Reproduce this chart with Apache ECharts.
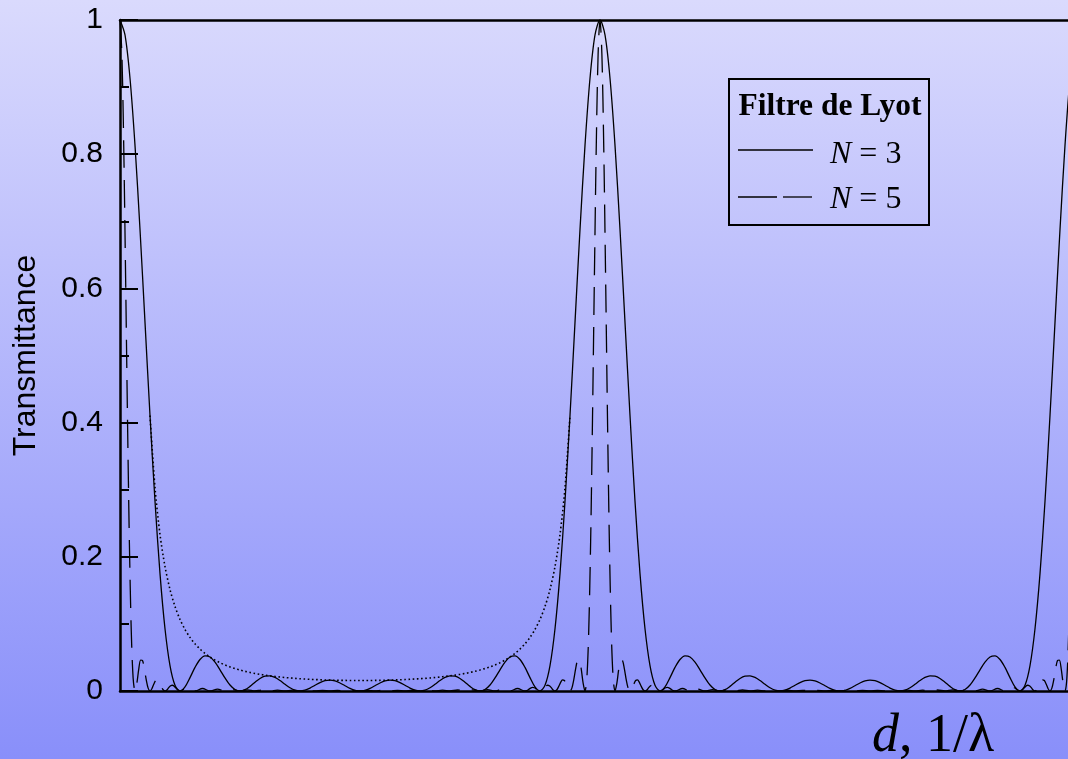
<!DOCTYPE html>
<html><head><meta charset="utf-8">
<script src="https://cdn.jsdelivr.net/npm/echarts@6/dist/echarts.min.js"></script>
<style>html,body{margin:0;padding:0;background:#fff;}#c{width:1068px;height:759px;}</style>
</head><body><div id="c"></div>
<script>
// x unit: 1/768 of one period of the filter response (peaks at 0, 768, 1536)
const yTickLabels = ['0', '0.2', '0.4', '0.6', '0.8', '1'];
const legendTitle = 'Filtre de Lyot';
const seriesNames = ['N = 3', 'N = 5', 'enveloppe'];

const lyotN3 = [
[0,1],[8,0.97772],[16,0.9132],[24,0.81318],[32,0.68784],[40,0.5494],[48,0.41053],[56,0.28273],[64,0.17494],[72,0.09271],[80,0.03781],[88,0.00844],[96,0],[104,0.00615],[112,0.01997],[120,0.03516],[128,0.04688],[136,0.05228],[144,0.05062],[152,0.04297],[160,0.03162],[168,0.01941],[176,0.00899],[184,0.00224],[192,0],[200,0.00196],[208,0.00691],[216,0.01307],[224,0.01862],[232,0.02206],[240,0.0226],[248,0.02022],[256,0.01563],[264,0.01004],[272,0.00486],[280,0.00126],[288,0],[296,0.0012],[304,0.00436],[312,0.00853],[320,0.01256],[328,0.01537],[336,0.01624],[344,0.01498],[352,0.01192],[360,0.00789],[368,0.00392],[376,0.00105],[384,0],
[392,0.00105],[400,0.00392],[408,0.00789],[416,0.01192],[424,0.01498],[432,0.01624],[440,0.01537],[448,0.01256],[456,0.00853],[464,0.00436],[472,0.0012],[480,0],[488,0.00126],[496,0.00486],[504,0.01004],[512,0.01563],[520,0.02022],[528,0.0226],[536,0.02206],[544,0.01862],[552,0.01307],[560,0.00691],[568,0.00196],[576,0],[584,0.00224],[592,0.00899],[600,0.01941],[608,0.03162],[616,0.04297],[624,0.05062],[632,0.05228],[640,0.04688],[648,0.03516],[656,0.01997],[664,0.00615],[672,0],[680,0.00844],[688,0.03781],[696,0.09271],[704,0.17494],[712,0.28273],[720,0.41053],[728,0.5494],[736,0.68784],[744,0.81318],[752,0.9132],[760,0.97772],
[768,1],[776,0.97772],[784,0.9132],[792,0.81318],[800,0.68784],[808,0.5494],[816,0.41053],[824,0.28273],[832,0.17494],[840,0.09271],[848,0.03781],[856,0.00844],[864,0],[872,0.00615],[880,0.01997],[888,0.03516],[896,0.04688],[904,0.05228],[912,0.05062],[920,0.04297],[928,0.03162],[936,0.01941],[944,0.00899],[952,0.00224],[960,0],[968,0.00196],[976,0.00691],[984,0.01307],[992,0.01862],[1000,0.02206],[1008,0.0226],[1016,0.02022],[1024,0.01563],[1032,0.01004],[1040,0.00486],[1048,0.00126],[1056,0],[1064,0.0012],[1072,0.00436],[1080,0.00853],[1088,0.01256],[1096,0.01537],[1104,0.01624],[1112,0.01498],[1120,0.01192],[1128,0.00789],[1136,0.00392],[1144,0.00105],[1152,0],
[1160,0.00105],[1168,0.00392],[1176,0.00789],[1184,0.01192],[1192,0.01498],[1200,0.01624],[1208,0.01537],[1216,0.01256],[1224,0.00853],[1232,0.00436],[1240,0.0012],[1248,0],[1256,0.00126],[1264,0.00486],[1272,0.01004],[1280,0.01563],[1288,0.02022],[1296,0.0226],[1304,0.02206],[1312,0.01862],[1320,0.01307],[1328,0.00691],[1336,0.00196],[1344,0],[1352,0.00224],[1360,0.00899],[1368,0.01941],[1376,0.03162],[1384,0.04297],[1392,0.05062],[1400,0.05228],[1408,0.04688],[1416,0.03516],[1424,0.01997],[1432,0.00615],[1440,0],[1448,0.00844],[1456,0.03781],[1464,0.09271],[1472,0.17494],[1480,0.28273],[1488,0.41053],[1496,0.5494],[1504,0.68784],[1512,0.81318],[1520,0.9132],[1528,0.97772],[1536,1]
];

const lyotN5 = [
[0,1],[3,0.94969],[6,0.81073],[9,0.61527],[12,0.40561],[15,0.22168],[18,0.09023],[21,0.01943],[24,0],[27,0.01177],[30,0.03259],[33,0.04602],[36,0.04536],[39,0.03303],[42,0.01671],[45,0.00427],[48,0],[51,0.00333],[54,0.01017],[57,0.01561],[60,0.01654],[63,0.01283],[66,0.00686],[69,0.00184],[72,0],[75,0.00157],[78,0.00496],[81,0.00788],[84,0.0086],[87,0.00687],[90,0.00377],[93,0.00104],[96,0],[99,0.00092],[102,0.00297],[105,0.00481],[108,0.00534],[111,0.00433],[114,0.00242],[117,0.00067],[120,0],
[132,0.0037],[144,0],[156,0.00275],[168,0],[180,0.00217],[192,0],[204,0.00178],[216,0],[228,0.00151],[240,0],[252,0.00133],[264,0],[276,0.0012],[288,0],[300,0.0011],[312,0],[324,0.00104],[336,0],[348,0.001],[360,0],[372,0.00098],[384,0],[396,0.00098],[408,0],[420,0.001],[432,0],[444,0.00104],[456,0],[468,0.0011],[480,0],[492,0.0012],[504,0],[516,0.00133],[528,0],[540,0.00151],[552,0],[564,0.00178],[576,0],[588,0.00217],[600,0],[612,0.00275],[624,0],[636,0.0037],
[648,0],[651,0.00067],[654,0.00242],[657,0.00433],[660,0.00534],[663,0.00481],[666,0.00297],[669,0.00092],[672,0],[675,0.00104],[678,0.00377],[681,0.00687],[684,0.0086],[687,0.00788],[690,0.00496],[693,0.00157],[696,0],[699,0.00184],[702,0.00686],[705,0.01283],[708,0.01654],[711,0.01561],[714,0.01017],[717,0.00333],[720,0],[723,0.00427],[726,0.01671],[729,0.03303],[732,0.04536],[735,0.04602],[738,0.03259],[741,0.01177],[744,0],[747,0.01943],[750,0.09023],[753,0.22168],[756,0.40561],[759,0.61527],[762,0.81073],[765,0.94969],
[768,1],[771,0.94969],[774,0.81073],[777,0.61527],[780,0.40561],[783,0.22168],[786,0.09023],[789,0.01943],[792,0],[795,0.01177],[798,0.03259],[801,0.04602],[804,0.04536],[807,0.03303],[810,0.01671],[813,0.00427],[816,0],[819,0.00333],[822,0.01017],[825,0.01561],[828,0.01654],[831,0.01283],[834,0.00686],[837,0.00184],[840,0],[843,0.00157],[846,0.00496],[849,0.00788],[852,0.0086],[855,0.00687],[858,0.00377],[861,0.00104],[864,0],[867,0.00092],[870,0.00297],[873,0.00481],[876,0.00534],[879,0.00433],[882,0.00242],[885,0.00067],[888,0],
[900,0.0037],[912,0],[924,0.00275],[936,0],[948,0.00217],[960,0],[972,0.00178],[984,0],[996,0.00151],[1008,0],[1020,0.00133],[1032,0],[1044,0.0012],[1056,0],[1068,0.0011],[1080,0],[1092,0.00104],[1104,0],[1116,0.001],[1128,0],[1140,0.00098],[1152,0],[1164,0.00098],[1176,0],[1188,0.001],[1200,0],[1212,0.00104],[1224,0],[1236,0.0011],[1248,0],[1260,0.0012],[1272,0],[1284,0.00133],[1296,0],[1308,0.00151],[1320,0],[1332,0.00178],[1344,0],[1356,0.00217],[1368,0],[1380,0.00275],[1392,0],[1404,0.0037],
[1416,0],[1419,0.00067],[1422,0.00242],[1425,0.00433],[1428,0.00534],[1431,0.00481],[1434,0.00297],[1437,0.00092],[1440,0],[1443,0.00104],[1446,0.00377],[1449,0.00687],[1452,0.0086],[1455,0.00788],[1458,0.00496],[1461,0.00157],[1464,0],[1467,0.00184],[1470,0.00686],[1473,0.01283],[1476,0.01654],[1479,0.01561],[1482,0.01017],[1485,0.00333],[1488,0],[1491,0.00427],[1494,0.01671],[1497,0.03303],[1500,0.04536],[1503,0.04602],[1506,0.03259],[1509,0.01177],[1512,0],[1515,0.01943],[1518,0.09023],[1521,0.22168],[1524,0.40561],[1527,0.61527],[1530,0.81073],[1533,0.94969],[1536,1]
];

const envelopeN3 = [
[48,0.41053],[56,0.30302],[64,0.23325],[72,0.18543],[80,0.15122],[88,0.12593],[96,0.10669],[104,0.09174],[112,0.07987],[120,0.07031],[128,0.0625],[136,0.05603],[144,0.05062],[152,0.04605],[160,0.04216],[168,0.03882],[176,0.03594],[184,0.03344],[192,0.03125],[200,0.02933],[208,0.02764],[216,0.02615],[224,0.02483],[232,0.02365],[240,0.0226],[248,0.02167],[256,0.02083],[264,0.02009],[272,0.01943],[280,0.01883],[288,0.01831],[296,0.01784],[304,0.01743],[312,0.01706],[320,0.01675],[328,0.01648],[336,0.01624],[344,0.01605],[352,0.0159],[360,0.01578],[368,0.01569],[376,0.01564],[384,0.01563],
[392,0.01564],[400,0.01569],[408,0.01578],[416,0.0159],[424,0.01605],[432,0.01624],[440,0.01648],[448,0.01675],[456,0.01706],[464,0.01743],[472,0.01784],[480,0.01831],[488,0.01883],[496,0.01943],[504,0.02009],[512,0.02083],[520,0.02167],[528,0.0226],[536,0.02365],[544,0.02483],[552,0.02615],[560,0.02764],[568,0.02933],[576,0.03125],[584,0.03344],[592,0.03594],[600,0.03882],[608,0.04216],[616,0.04605],[624,0.05062],[632,0.05603],[640,0.0625],[648,0.07031],[656,0.07987],[664,0.09174],[672,0.10669],[680,0.12593],[688,0.15122],[696,0.18543],[704,0.23325],[712,0.30302],[720,0.41053]
];

const chart = echarts.init(document.getElementById('c'), null, {renderer: 'canvas'});
const axisBlack = {color: '#000', width: 2.5};
const sans = '"Liberation Sans", Arial, sans-serif';
const serif = '"Liberation Serif", "Times New Roman", serif';

chart.setOption({
  animation: false,
  backgroundColor: {type: 'linear', x: 0, y: 0, x2: 0, y2: 1,
    colorStops: [{offset: 0, color: '#dadafd'}, {offset: 1, color: '#898ffa'}]},
  grid: {left: 120, top: 20, right: 0, bottom: 68},
  xAxis: [
    {type: 'value', min: 0, max: 1516.8, position: 'bottom',
     axisLine: {show: true, onZero: false, lineStyle: axisBlack},
     axisTick: {show: false}, axisLabel: {show: false}, splitLine: {show: false}},
    {type: 'value', min: 0, max: 1516.8, position: 'top',
     axisLine: {show: true, onZero: false, lineStyle: axisBlack},
     axisTick: {show: false}, axisLabel: {show: false}, splitLine: {show: false}}
  ],
  yAxis: {
    type: 'value', min: 0, max: 1, interval: 0.2,
    axisLine: {show: true, lineStyle: axisBlack},
    axisTick: {show: true, inside: true, length: 18, lineStyle: {color: '#000', width: 2}},
    minorTick: {show: true, splitNumber: 2, length: 9, lineStyle: {color: '#000', width: 2}},
    splitLine: {show: false},
    axisLabel: {color: '#000', fontFamily: sans, fontSize: 30, margin: 17, padding: [4, 0, 0, 0],
      formatter: (v) => yTickLabels[Math.round(v / 0.2)]},
    name: 'Transmittance', nameLocation: 'middle', nameGap: 78,
    nameTextStyle: {color: '#000', fontFamily: sans, fontSize: 32}
  },
  series: [
    {name: seriesNames[2], type: 'line', data: envelopeN3, showSymbol: false, symbol: 'none',
     smooth: 0.3, clip: true, lineStyle: {color: '#000', width: 1.6, type: [1.6, 2.6]}},
    {name: seriesNames[1], type: 'line', data: lyotN5, showSymbol: false, symbol: 'none',
     smooth: 0.3, clip: true, lineStyle: {color: '#000', width: 1.3, type: [28, 12]}},
    {name: seriesNames[0], type: 'line', data: lyotN3, showSymbol: false, symbol: 'none',
     smooth: 0.3, clip: true, lineStyle: {color: '#000', width: 1.3}}
  ],
  graphic: [
    {type: 'rect', shape: {x: 729, y: 79, width: 200, height: 146},
     style: {fill: 'none', stroke: '#000', lineWidth: 2}},
    {type: 'text', x: 830, y: 107,
     style: {text: legendTitle, font: 'bold 31.5px ' + serif, fill: '#000', align: 'center', verticalAlign: 'middle'}},
    {type: 'line', shape: {x1: 738, y1: 150, x2: 813, y2: 150}, style: {stroke: '#000', lineWidth: 1.3}},
    {type: 'line', shape: {x1: 738, y1: 197, x2: 777, y2: 197}, style: {stroke: '#000', lineWidth: 1.3}},
    {type: 'line', shape: {x1: 783, y1: 197, x2: 812, y2: 197}, style: {stroke: '#000', lineWidth: 1.3}},
    {type: 'text', x: 830, y: 155,
     style: {text: '{i|N} = 3', font: '32px ' + serif, fill: '#000', align: 'left', verticalAlign: 'middle',
       rich: {i: {fontStyle: 'italic', fontFamily: serif, fontSize: 32}}}},
    {type: 'text', x: 830, y: 200,
     style: {text: '{i|N} = 5', font: '32px ' + serif, fill: '#000', align: 'left', verticalAlign: 'middle',
       rich: {i: {fontStyle: 'italic', fontFamily: serif, fontSize: 32}}}},
    {type: 'text', x: 872, y: 737,
     style: {text: '{i|d}, 1/λ', font: '54px ' + serif, fill: '#000', align: 'left', verticalAlign: 'middle',
       rich: {i: {fontStyle: 'italic', fontFamily: serif, fontSize: 54}}}}
  ]
});
</script>
</body></html>
